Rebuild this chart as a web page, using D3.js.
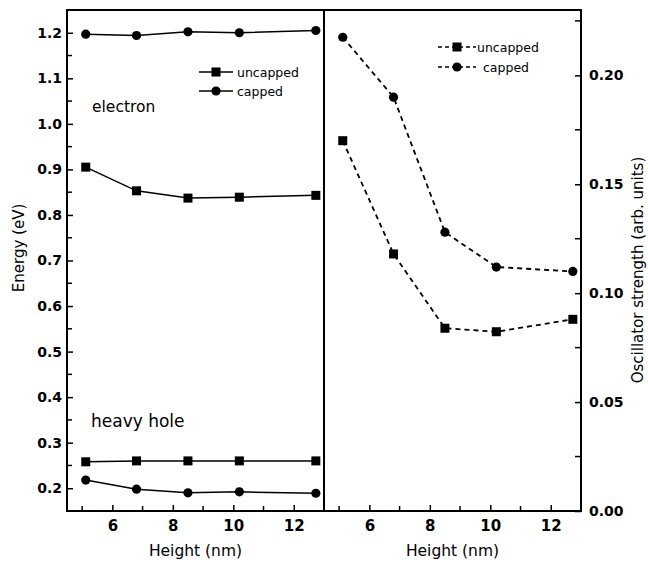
<!DOCTYPE html>
<html>
<head>
<meta charset="utf-8">
<script src="https://cdn.jsdelivr.net/npm/d3@7"></script>
<style>
body { margin: 0; background: #fff; }
svg { display: block; }
.tick text { font-family: "DejaVu Sans", sans-serif; font-weight: bold; fill: #000; }
.tick line { stroke: #000; stroke-width: 1.5; }
.lbl { font-family: "DejaVu Sans", sans-serif; fill: #000; }
</style>
</head>
<body>
<div id="chart"></div>
<script>
// data
const heights = [5.12, 6.8, 8.5, 10.2, 12.73];
const eUncapped = [0.905, 0.853, 0.837, 0.839, 0.843];
const eCapped = [1.197, 1.194, 1.202, 1.200, 1.205];
const hhUncapped = [0.258, 0.260, 0.260, 0.260, 0.260];
const hhCapped = [0.218, 0.198, 0.190, 0.192, 0.189];
const oscUncapped = [0.170, 0.118, 0.0839, 0.0823, 0.088];
const oscCapped = [0.2175, 0.190, 0.128, 0.112, 0.110];
const energyTicks = [0.2, 0.3, 0.4, 0.5, 0.6, 0.7, 0.8, 0.9, 1.0, 1.1, 1.2];
const oscTicks = [0.00, 0.05, 0.10, 0.15, 0.20];
const heightTicks = [6, 8, 10, 12];

const W = 648, H = 564;
const pTop = 10, pBottom = 511, pLeft = 67, pMid = 324, pRight = 581;

const svg = d3.select('#chart').append('svg')
	.attr('width', W)
	.attr('height', H);

const xL = d3.scaleLinear().domain([4.5, 13]).range([pLeft, pMid]);
const xR = d3.scaleLinear().domain([4.5, 13]).range([pMid, pRight]);
const yE = d3.scaleLinear().domain([0.15, 1.25]).range([pBottom, pTop]);
const yO = d3.scaleLinear().domain([0, 0.23]).range([pBottom, pTop]);

// minor ticks
function minor(g, vals, fn) {
	g.selectAll('line.minor').data(vals).enter()
		.append('line')
		.attr('class', 'minor')
		.attr('stroke', '#000')
		.attr('stroke-width', 1.5)
		.each(fn);
}

// x axes
[[xL, 'xl'], [xR, 'xr']].forEach(([sc, cls]) => {
	const g = svg.append('g')
		.attr('class', cls)
		.attr('transform', 'translate(0,' + pBottom + ')')
		.call(d3.axisBottom(sc).tickValues(heightTicks).tickSize(-6).tickPadding(9).tickFormat(d3.format('d')));
	g.select('.domain').remove();
	g.selectAll('.tick text').style('font-size', '15px');
	minor(g, [5, 7, 9, 11], function(d) {
		d3.select(this).attr('x1', sc(d)).attr('x2', sc(d)).attr('y1', 0).attr('y2', -5);
	});
});

// left y axis
const gyl = svg.append('g')
	.attr('transform', 'translate(' + pLeft + ',0)')
	.call(d3.axisLeft(yE).tickValues(energyTicks).tickSize(-6).tickPadding(5).tickFormat(d3.format('.1f')));
gyl.select('.domain').remove();
gyl.selectAll('.tick text').style('font-size', '14px');
minor(gyl, d3.range(0.25, 1.25, 0.1), function(d) {
	d3.select(this).attr('y1', yE(d)).attr('y2', yE(d)).attr('x1', 0).attr('x2', 5);
});

// right y axis
const gyr = svg.append('g')
	.attr('transform', 'translate(' + pRight + ',0)')
	.call(d3.axisRight(yO).tickValues(oscTicks).tickSize(-6).tickPadding(8).tickFormat(d3.format('.2f')));
gyr.select('.domain').remove();
gyr.selectAll('.tick text').style('font-size', '14px');
minor(gyr, [0.025, 0.075, 0.125, 0.175, 0.225], function(d) {
	d3.select(this).attr('y1', yO(d)).attr('y2', yO(d)).attr('x1', 0).attr('x2', -6);
});

// frame
svg.append('rect')
	.attr('x', pLeft).attr('y', pTop)
	.attr('width', pRight - pLeft).attr('height', pBottom - pTop)
	.attr('fill', 'none').attr('stroke', '#000').attr('stroke-width', 2);
svg.append('line')
	.attr('x1', pMid).attr('x2', pMid).attr('y1', pTop).attr('y2', pBottom)
	.attr('stroke', '#000').attr('stroke-width', 2);

// series
function series(xs, ys, vals, shape, dashed) {
	const pts = heights.map((h, i) => [xs(h), ys(vals[i])]);
	svg.append('path')
		.attr('d', d3.line()(pts))
		.attr('fill', 'none')
		.attr('stroke', '#000')
		.attr('stroke-width', dashed ? 1.8 : 1.5)
		.attr('stroke-dasharray', dashed ? '5,4' : null);
	const g = svg.append('g');
	if (shape == 'square') {
		g.selectAll('rect').data(pts).enter().append('rect')
			.attr('x', d => d[0] - 4.5).attr('y', d => d[1] - 4.5)
			.attr('width', 9).attr('height', 9);
	} else {
		g.selectAll('circle').data(pts).enter().append('circle')
			.attr('cx', d => d[0]).attr('cy', d => d[1]).attr('r', 4.6);
	}
}
series(xL, yE, eCapped, 'circle', false);
series(xL, yE, eUncapped, 'square', false);
series(xL, yE, hhUncapped, 'square', false);
series(xL, yE, hhCapped, 'circle', false);
series(xR, yO, oscCapped, 'circle', true);
series(xR, yO, oscUncapped, 'square', true);

// legends
function legend(x0, x1, y, shape, dashed, label, tx) {
	svg.append('line')
		.attr('x1', x0).attr('x2', x1).attr('y1', y).attr('y2', y)
		.attr('stroke', '#000').attr('stroke-width', 1.5)
		.attr('stroke-dasharray', dashed ? '4,3' : null);
	const cx = (x0 + x1) / 2;
	if (shape == 'square') {
		svg.append('rect').attr('x', cx - 4.5).attr('y', y - 4.5).attr('width', 9).attr('height', 9);
	} else {
		svg.append('circle').attr('cx', cx).attr('cy', y).attr('r', 4.6);
	}
	svg.append('text')
		.attr('class', 'lbl')
		.attr('x', tx).attr('y', y + 4.5)
		.style('font-size', '12.5px')
		.text(label);
}
legend(199, 233, 72, 'square', false, 'uncapped', 237);
legend(199, 233, 91, 'circle', false, 'capped', 237);
legend(438, 476, 47, 'square', true, 'uncapped', 477);
legend(438, 476, 67, 'circle', true, 'capped', 483);

// annotations
svg.append('text').attr('class', 'lbl')
	.attr('x', 92).attr('y', 112)
	.style('font-size', '15.5px')
	.text('electron');
svg.append('text').attr('class', 'lbl')
	.attr('x', 91).attr('y', 427)
	.style('font-size', '17px')
	.text('heavy hole');

// axis titles
svg.append('text').attr('class', 'lbl')
	.attr('text-anchor', 'middle')
	.attr('x', (pLeft + pMid) / 2).attr('y', 556)
	.style('font-size', '15.5px')
	.text('Height (nm)');
svg.append('text').attr('class', 'lbl')
	.attr('text-anchor', 'middle')
	.attr('x', (pMid + pRight) / 2).attr('y', 556)
	.style('font-size', '15.5px')
	.text('Height (nm)');
svg.append('text').attr('class', 'lbl')
	.attr('text-anchor', 'middle')
	.attr('transform', 'translate(24,248) rotate(-90)')
	.style('font-size', '15px')
	.text('Energy (eV)');
svg.append('text').attr('class', 'lbl')
	.attr('text-anchor', 'middle')
	.attr('transform', 'translate(643,270) rotate(-90)')
	.style('font-size', '15px')
	.text('Oscillator strength (arb. units)');
</script>
</body>
</html>
